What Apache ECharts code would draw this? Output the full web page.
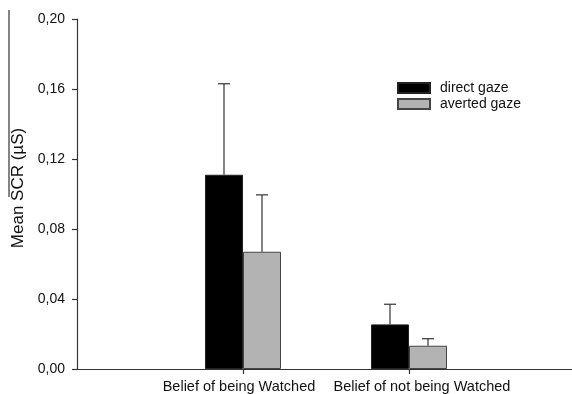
<!DOCTYPE html>
<html>
<head>
<meta charset="utf-8">
<script src="https://cdn.jsdelivr.net/npm/echarts@6/dist/echarts.min.js"></script>
<style>
  html, body { margin: 0; padding: 0; background: #fff; }
  #chart { width: 572px; height: 394px; }
</style>
</head>
<body>
<div id="chart"></div>
<script>
// Group labels (padded with empty slots so the two groups sit at 1/3 and 2/3 of the axis)
const categories = ['', 'Belief of being Watched', 'Belief of not being Watched', ''];
const seriesNames = ['direct gaze', 'averted gaze'];

// Mean SCR (µS) per condition
const directMeans = [null, 0.111, 0.0255, null];
const avertedMeans = [null, 0.067, 0.0133, null];

// Upper end of the error bars (mean + SE)
const directUpper = [null, 0.163, 0.037, null];
const avertedUpper = [null, 0.0995, 0.0173, null];

const yTickLabels = ['0,00', '0,04', '0,08', '0,12', '0,16', '0,20'];

const BAR_W = 38;
const CAP_W = 12;
const AXIS_COLOR = '#333';
const FONT = 'Liberation Sans, Arial, sans-serif';

function errorSeries(upper, means, offset) {
  const data = [];
  upper.forEach((u, i) => { if (u != null) data.push([i, means[i], u]); });
  return {
    type: 'custom',
    silent: true,
    z: 3,
    data: data,
    encode: { x: 0, y: [1, 2] },
    renderItem: function (params, api) {
      const lo = api.coord([api.value(0), api.value(1)]);
      const hi = api.coord([api.value(0), api.value(2)]);
      const x = lo[0] + offset;
      const style = { stroke: AXIS_COLOR, lineWidth: 1.2 };
      return {
        type: 'group',
        children: [
          { type: 'line', shape: { x1: x, y1: lo[1], x2: x, y2: hi[1] }, style: style },
          { type: 'line', shape: { x1: x - CAP_W / 2, y1: hi[1], x2: x + CAP_W / 2, y2: hi[1] }, style: style }
        ]
      };
    }
  };
}

const chart = echarts.init(document.getElementById('chart'));
chart.setOption({
  animation: false,
  backgroundColor: '#fff',
  textStyle: { fontFamily: FONT },
  grid: {
    left: 77, right: -3, top: 19, bottom: 25,
    containLabel: false,
    outerBoundsMode: 'none'
  },
  legend: {
    orient: 'vertical',
    left: 392,
    top: 76,
    itemWidth: 32,
    itemHeight: 10,
    itemGap: 2,
    icon: 'rect',
    data: seriesNames,
    textStyle: { fontSize: 14, color: '#111', padding: [0, 0, 0, 5], fontFamily: FONT }
  },
  xAxis: {
    type: 'category',
    data: categories,
    boundaryGap: false,
    axisLine: { lineStyle: { color: AXIS_COLOR, width: 1.2 } },
    axisTick: {
      length: 5,
      lineStyle: { color: AXIS_COLOR, width: 1.2 },
      interval: function (i) { return i === 1 || i === 2; }
    },
    axisLabel: {
      margin: 10,
      interval: 0,
      fontSize: 14.5,
      color: '#111',
      fontFamily: FONT,
      formatter: function (v, i) {
        if (!v) return '';
        return i === 1 ? '{a|' + v + '}' : '{b|' + v + '}';
      },
      rich: {
        a: { fontSize: 14.5, color: '#111', fontFamily: FONT, padding: [0, 8, 0, 0] },
        b: { fontSize: 14.5, color: '#111', fontFamily: FONT, padding: [0, 0, 0, 26] }
      }
    },
    splitLine: { show: false }
  },
  yAxis: {
    type: 'value',
    min: 0,
    max: 0.2,
    interval: 0.04,
    name: 'Mean SCR (µS)',
    nameLocation: 'middle',
    nameRotate: 90,
    nameGap: 48,
    nameTextStyle: { fontSize: 17, color: '#111', fontFamily: FONT, padding: [0, 0, 0, 12] },
    axisLine: { show: true, lineStyle: { color: AXIS_COLOR, width: 1.2 } },
    axisTick: { show: true, length: 5, lineStyle: { color: AXIS_COLOR, width: 1.2 } },
    axisLabel: {
      margin: 12,
      fontSize: 14,
      color: '#111',
      fontFamily: FONT,
      formatter: function (v) { return yTickLabels[Math.round(v / 0.04)]; }
    },
    splitLine: { show: false }
  },
  series: [
    {
      name: seriesNames[0],
      type: 'bar',
      data: directMeans,
      barWidth: BAR_W,
      barGap: '0%',
      itemStyle: { color: '#000', borderColor: '#222', borderWidth: 1 }
    },
    {
      name: seriesNames[1],
      type: 'bar',
      data: avertedMeans,
      barWidth: BAR_W,
      barGap: '0%',
      itemStyle: { color: '#b3b3b3', borderColor: '#444', borderWidth: 1 }
    },
    errorSeries(directUpper, directMeans, -BAR_W / 2),
    errorSeries(avertedUpper, avertedMeans, BAR_W / 2)
  ],
  graphic: [
    {
      type: 'line',
      shape: { x1: 9, y1: 10, x2: 9, y2: 197 },
      style: { stroke: '#333', lineWidth: 1.2 },
      z: 10
    }
  ]
});
</script>
</body>
</html>
